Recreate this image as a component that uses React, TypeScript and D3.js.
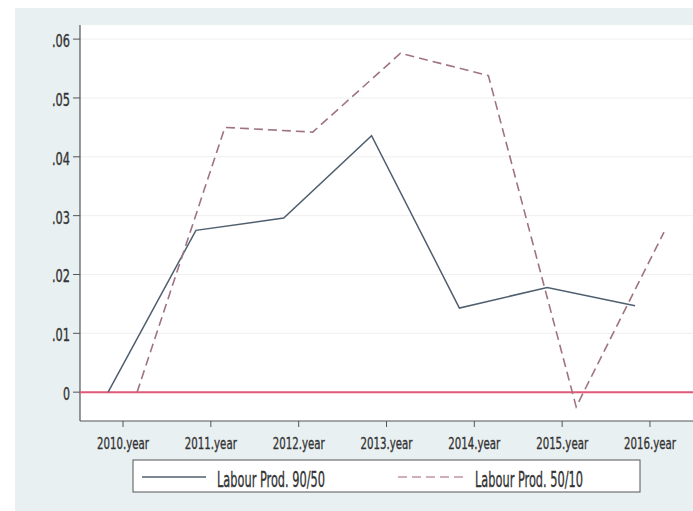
import React from "react";
import * as d3 from "d3";

// Years on the x axis and their tick labels
const years = [2010, 2011, 2012, 2013, 2014, 2015, 2016];
const yearLabels = ["2010.year", "2011.year", "2012.year", "2013.year", "2014.year", "2015.year", "2016.year"];

// Labour productivity ratios by year
const prod9050 = [0, 0.0275, 0.0296, 0.0436, 0.0143, 0.0178, 0.0147];
const prod5010 = [0, 0.045, 0.0442, 0.0576, 0.0538, -0.0025, 0.0272];

// Horizontal shift of each series within a year slot
const offset9050 = -0.17;
const offset5010 = 0.16;

const yTicks = [0, 0.01, 0.02, 0.03, 0.04, 0.05, 0.06];
const yTickLabels = ["0", ".01", ".02", ".03", ".04", ".05", ".06"];

const seriesNames = ["Labour Prod. 90/50", "Labour Prod. 50/10"];

const W = 693;
const H = 511;
const plot = { left: 80, right: 693, top: 25, bottom: 421 };
const FONT = "'DejaVu Sans Condensed', 'Liberation Sans Narrow', sans-serif";

export default function App() {
  const x = d3.scaleLinear().domain([2009.51, 2016.49]).range([plot.left, plot.right]);
  const y = d3.scaleLinear().domain([-0.0049, 0.0624]).range([plot.bottom, plot.top]);

  const line = d3
    .line<[number, number]>()
    .x((d) => x(d[0]))
    .y((d) => y(d[1]));

  const pts9050: [number, number][] = years.map((yr, i) => [yr + offset9050, prod9050[i]]);
  const pts5010: [number, number][] = years.map((yr, i) => [yr + offset5010, prod5010[i]]);

  const solidColor = "#4f5f6f";
  const dashColor = "#a07383";
  const legendDash = "#c2959f";
  const textColor = "#333333";
  const textStroke = { stroke: textColor, strokeWidth: 0.35 };

  const legend = { x: 133, y: 460, w: 507, h: 32 };

  return (
    <svg
      width={W}
      height={H}
      style={{ position: "absolute", left: 0, top: 0, display: "block" }}
      fontFamily={FONT}
    >
      <rect x={0} y={0} width={W} height={H} fill="#ffffff" />
      <rect x={15} y={8} width={W - 15} height={H - 8} fill="#e9f0f2" />
      <rect x={plot.left} y={plot.top} width={plot.right - plot.left} height={plot.bottom - plot.top} fill="#ffffff" />

      {/* horizontal grid */}
      {yTicks.map((t) => (
        <line key={"g" + t} x1={plot.left} x2={plot.right} y1={y(t)} y2={y(t)} stroke="#f0eeee" strokeWidth={1} />
      ))}

      {/* y axis */}
      <line x1={plot.left} x2={plot.left} y1={plot.top} y2={plot.bottom} stroke="#555" strokeWidth={1.2} />
      {yTicks.map((t, i) => (
        <g key={"y" + t}>
          <line x1={plot.left - 7} x2={plot.left} y1={y(t)} y2={y(t)} stroke="#555" strokeWidth={1} />
          <text
            x={70}
            y={y(t) + 8}
            textAnchor="end"
            fontSize={17}
            fill={textColor}
            {...textStroke}
            textLength={yTickLabels[i].length === 1 ? 7 : 18}
            lengthAdjust="spacingAndGlyphs"
          >
            {yTickLabels[i]}
          </text>
        </g>
      ))}

      {/* x axis */}
      <line x1={plot.left} x2={plot.right} y1={plot.bottom} y2={plot.bottom} stroke="#555" strokeWidth={1.2} />
      {years.map((yr, i) => (
        <g key={"x" + yr}>
          <line x1={x(yr)} x2={x(yr)} y1={plot.bottom} y2={plot.bottom + 6} stroke="#555" strokeWidth={1} />
          <text
            x={x(yr)}
            y={449}
            textAnchor="middle"
            fontSize={16.5}
            fill={textColor}
            {...textStroke}
            textLength={52}
            lengthAdjust="spacingAndGlyphs"
          >
            {yearLabels[i]}
          </text>
        </g>
      ))}

      {/* reference line at zero */}
      <line x1={plot.left} x2={plot.right} y1={y(0)} y2={y(0)} stroke="#e05a78" strokeWidth={2} />

      {/* series */}
      <path d={line(pts9050) ?? ""} fill="none" stroke={solidColor} strokeWidth={1.5} />
      <path d={line(pts5010) ?? ""} fill="none" stroke={dashColor} strokeWidth={1.6} strokeDasharray="9,5" />

      {/* legend */}
      <rect x={legend.x} y={legend.y} width={legend.w} height={legend.h} fill="#ffffff" stroke="#555" strokeWidth={1} />
      <line x1={142} x2={206} y1={477} y2={477} stroke={solidColor} strokeWidth={1.5} />
      <text x={217} y={487} fontSize={21} fill={textColor} {...textStroke} textLength={108} lengthAdjust="spacingAndGlyphs">
        {seriesNames[0]}
      </text>
      <line x1={398} x2={465} y1={477} y2={477} stroke={legendDash} strokeWidth={1.5} strokeDasharray="9,5" />
      <text x={475} y={487} fontSize={21} fill={textColor} {...textStroke} textLength={108} lengthAdjust="spacingAndGlyphs">
        {seriesNames[1]}
      </text>
    </svg>
  );
}
